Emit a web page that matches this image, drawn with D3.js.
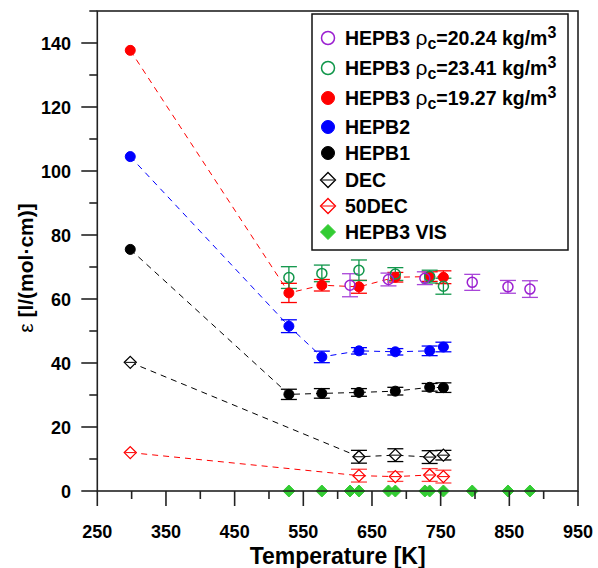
<!DOCTYPE html>
<html>
<head>
<meta charset="utf-8">
<script src="https://cdn.jsdelivr.net/npm/d3@7"></script>
<style>
  body { margin: 0; background: #fff; }
  svg { font-family: "Liberation Sans", Arial, sans-serif; }
</style>
</head>
<body>
<script>
// temperatures [K]
var tempHEPB = [298, 529, 577, 631, 684, 734, 754];
var temp2341 = [529, 577, 631, 684, 734, 754];
var temp2024 = [618, 674, 727, 796, 848, 880];
var tempDEC = [298, 631, 684, 734, 754];
var tempVIS = [529, 577, 618, 631, 674, 684, 727, 734, 754, 796, 848, 880];

// epsilon values [l/(mol cm)] and error
var hepb3_1927 = [137.7, 61.9, 64.3, 63.8, 66.8, 67.0, 66.8];
var hepb3_1927Err = [0, 3.0, 1.8, 2.0, 1.5, 1.5, 2.0];
var hepb2 = [104.5, 51.5, 41.9, 43.8, 43.5, 43.8, 45.0];
var hepb2Err = [0, 2.0, 1.8, 1.0, 1.0, 1.5, 1.5];
var hepb1 = [75.5, 30.2, 30.5, 30.8, 31.2, 32.4, 32.3];
var hepb1Err = [0, 1.6, 1.5, 1.2, 1.2, 1.2, 1.5];
var hepb3_2341 = [66.7, 68.0, 69.0, 67.8, 67.0, 64.0];
var hepb3_2341Err = [3.4, 2.6, 3.2, 2.0, 2.0, 2.5];
var hepb3_2024 = [64.3, 66.1, 66.5, 65.2, 63.8, 63.1];
var hepb3_2024Err = [3.6, 2.0, 2.0, 2.5, 2.0, 2.6];
var dec = [40.2, 10.7, 11.2, 10.6, 11.2];
var decErr = [0, 2.0, 2.0, 2.0, 1.5];
var dec50 = [12.0, 4.8, 4.5, 5.0, 4.5];
var dec50Err = [0, 2.0, 1.5, 2.0, 2.0];
var vis = [0, 0, 0, 0, 0, 0, 0, 0, 0, 0, 0, 0];

var xMajor = [250, 350, 450, 550, 650, 750, 850, 950];
var xMinor = [300, 400, 500, 600, 700, 800, 900];
var yMajor = [0, 20, 40, 60, 80, 100, 120, 140];
var yMinor = [10, 30, 50, 70, 90, 110, 130, 150];

var svg = d3.select("body")
    .append("svg")
    .attr("width", 598)
    .attr("height", 568);

var x = d3.scaleLinear().domain([250, 950]).range([97.3, 578]);
var y = d3.scaleLinear().domain([0, 150]).range([491, 11]);

var axisColor = "#222";

// series definitions
var series = [
  {name: "VIS", t: tempVIS, v: vis, e: null, shape: "diamond", fill: "#33cc33", stroke: "#33cc33", line: null},
  {name: "50DEC", t: tempDEC, v: dec50, e: dec50Err, shape: "diamond", fill: "#fff", stroke: "#ff0000", ebar: "#ff4040", line: "#ff0000"},
  {name: "DEC", t: tempDEC, v: dec, e: decErr, shape: "diamond", fill: "#fff", stroke: "#000", ebar: "#000", line: "#000"},
  {name: "HEPB1", t: tempHEPB, v: hepb1, e: hepb1Err, shape: "circle", fill: "#000", stroke: "#000", ebar: "#000", line: "#000"},
  {name: "HEPB2", t: tempHEPB, v: hepb2, e: hepb2Err, shape: "circle", fill: "#0000ff", stroke: "#0000ff", ebar: "#0000ff", line: "#0000ff"},
  {name: "19.27", t: tempHEPB, v: hepb3_1927, e: hepb3_1927Err, shape: "circle", fill: "#ff0000", stroke: "#ff0000", ebar: "#ff0000", line: "#ff0000"},
  {name: "23.41", t: temp2341, v: hepb3_2341, e: hepb3_2341Err, shape: "circle", fill: "none", stroke: "#10964a", ebar: "#10964a", line: null},
  {name: "20.24", t: temp2024, v: hepb3_2024, e: hepb3_2024Err, shape: "circle", fill: "none", stroke: "#9b1fd1", ebar: "#a845d8", line: null}
];

// dashed lines
series.forEach(function (s) {
  if (!s.line) return;
  var pts = s.t.map(function (t, i) { return [t, s.v[i]]; });
  svg.append("path")
      .attr("d", d3.line().x(function (d) { return x(d[0]); }).y(function (d) { return y(d[1]); })(pts))
      .attr("fill", "none")
      .attr("stroke", s.line)
      .attr("stroke-width", 1)
      .attr("stroke-dasharray", "6,5");
});

// error bars
series.forEach(function (s) {
  if (!s.e) return;
  var g = svg.append("g").attr("stroke", s.ebar).attr("stroke-width", 1.3);
  s.t.forEach(function (t, i) {
    var err = s.e[i];
    if (!err) return;
    var cx = x(t), top = y(s.v[i] + err), bot = y(s.v[i] - err);
    g.append("line").attr("x1", cx).attr("x2", cx).attr("y1", top).attr("y2", bot);
    g.append("line").attr("x1", cx - 8).attr("x2", cx + 8).attr("y1", top).attr("y2", top);
    g.append("line").attr("x1", cx - 8).attr("x2", cx + 8).attr("y1", bot).attr("y2", bot);
  });
});

function drawMarker(g, s, cx, cy, r) {
  if (s.shape === "circle") {
    g.append("circle")
        .attr("cx", cx).attr("cy", cy).attr("r", r)
        .attr("fill", s.fill)
        .attr("stroke", s.stroke)
        .attr("stroke-width", s.fill === "none" ? 1.5 : 1);
  } else {
    var h = r + 1;
    g.append("path")
        .attr("d", "M" + cx + "," + (cy - h) + "L" + (cx + h) + "," + cy + "L" + cx + "," + (cy + h) + "L" + (cx - h) + "," + cy + "Z")
        .attr("fill", s.fill)
        .attr("stroke", s.stroke)
        .attr("stroke-width", s.fill === "#fff" ? 1.3 : 1);
    if (s.fill === "#fff") {
      g.append("line")
          .attr("x1", cx - h + 1).attr("x2", cx + h - 1)
          .attr("y1", cy).attr("y2", cy)
          .attr("stroke", s.stroke).attr("stroke-width", 1);
    }
  }
}

// markers
var markers = svg.append("g");
series.forEach(function (s) {
  s.t.forEach(function (t, i) {
    drawMarker(markers, s, x(t), y(s.v[i]), 5);
  });
});

// frame
svg.append("rect")
    .attr("x", x(250)).attr("y", y(150))
    .attr("width", x(950) - x(250)).attr("height", y(0) - y(150))
    .attr("fill", "none").attr("stroke", axisColor).attr("stroke-width", 1.6);

// x ticks
svg.selectAll(".xmaj").data(xMajor).enter().append("line")
    .attr("x1", function (d) { return x(d); }).attr("x2", function (d) { return x(d); })
    .attr("y1", y(0)).attr("y2", y(0) + 15)
    .attr("stroke", axisColor).attr("stroke-width", 1.6);
svg.selectAll(".xmin").data(xMinor).enter().append("line")
    .attr("x1", function (d) { return x(d); }).attr("x2", function (d) { return x(d); })
    .attr("y1", y(0)).attr("y2", y(0) + 8)
    .attr("stroke", axisColor).attr("stroke-width", 1.6);
svg.selectAll(".xlab").data(xMajor).enter().append("text")
    .attr("x", function (d) { return x(d); })
    .attr("y", 538)
    .attr("text-anchor", "middle")
    .attr("font-size", 18).attr("font-weight", "bold")
    .text(function (d) { return d; });

// y ticks
svg.selectAll(".ymaj").data(yMajor).enter().append("line")
    .attr("x1", x(250) - 16).attr("x2", x(250))
    .attr("y1", function (d) { return y(d); }).attr("y2", function (d) { return y(d); })
    .attr("stroke", axisColor).attr("stroke-width", 1.6);
svg.selectAll(".ymin").data(yMinor).enter().append("line")
    .attr("x1", x(250) - 8).attr("x2", x(250))
    .attr("y1", function (d) { return y(d); }).attr("y2", function (d) { return y(d); })
    .attr("stroke", axisColor).attr("stroke-width", 1.6);
svg.selectAll(".ylab").data(yMajor).enter().append("text")
    .attr("x", 71)
    .attr("y", function (d) { return y(d) + 6.5; })
    .attr("text-anchor", "end")
    .attr("font-size", 18).attr("font-weight", "bold")
    .text(function (d) { return d; });

// axis titles
svg.append("text")
    .attr("x", (x(250) + x(950)) / 2)
    .attr("y", 564)
    .attr("text-anchor", "middle")
    .attr("font-size", 23).attr("font-weight", "bold")
    .text("Temperature [K]");

var yt = svg.append("text")
    .attr("transform", "translate(33,268) rotate(-90)")
    .attr("text-anchor", "middle")
    .attr("font-size", 21).attr("font-weight", "bold");
yt.append("tspan").attr("font-weight", "normal").text("ε ");
yt.append("tspan").text("[l/(mol·cm)]");

// legend
var legend = svg.append("g");
legend.append("rect")
    .attr("x", 312).attr("y", 14)
    .attr("width", 256).attr("height", 236)
    .attr("fill", "#fff").attr("stroke", "#111").attr("stroke-width", 1.5);

var legendRows = [
  {s: series[7], dens: "20.24", cy: 38},
  {s: series[6], dens: "23.41", cy: 68},
  {s: series[5], dens: "19.27", cy: 98},
  {s: series[4], label: "HEPB2", cy: 127},
  {s: series[3], label: "HEPB1", cy: 153},
  {s: series[2], label: "DEC", cy: 180},
  {s: series[1], label: "50DEC", cy: 206},
  {s: series[0], label: "HEPB3 VIS", cy: 232}
];

legendRows.forEach(function (row) {
  drawMarker(legend, row.s, 328, row.cy, 6.5);
  var t = legend.append("text")
      .attr("x", 345).attr("y", row.cy + 7)
      .attr("font-size", 19.5).attr("font-weight", "bold");
  if (row.dens) {
    t.append("tspan").text("HEPB3 ");
    t.append("tspan").attr("font-weight", "normal").attr("font-size", 21).text("ρ");
    t.append("tspan").attr("font-size", 16).attr("dy", 4).text("c");
    t.append("tspan").attr("dy", -4).text("=" + row.dens + " kg/m");
    t.append("tspan").attr("font-size", 16).attr("dy", -7).text("3");
  } else {
    t.text(row.label);
  }
});
</script>
</body>
</html>
